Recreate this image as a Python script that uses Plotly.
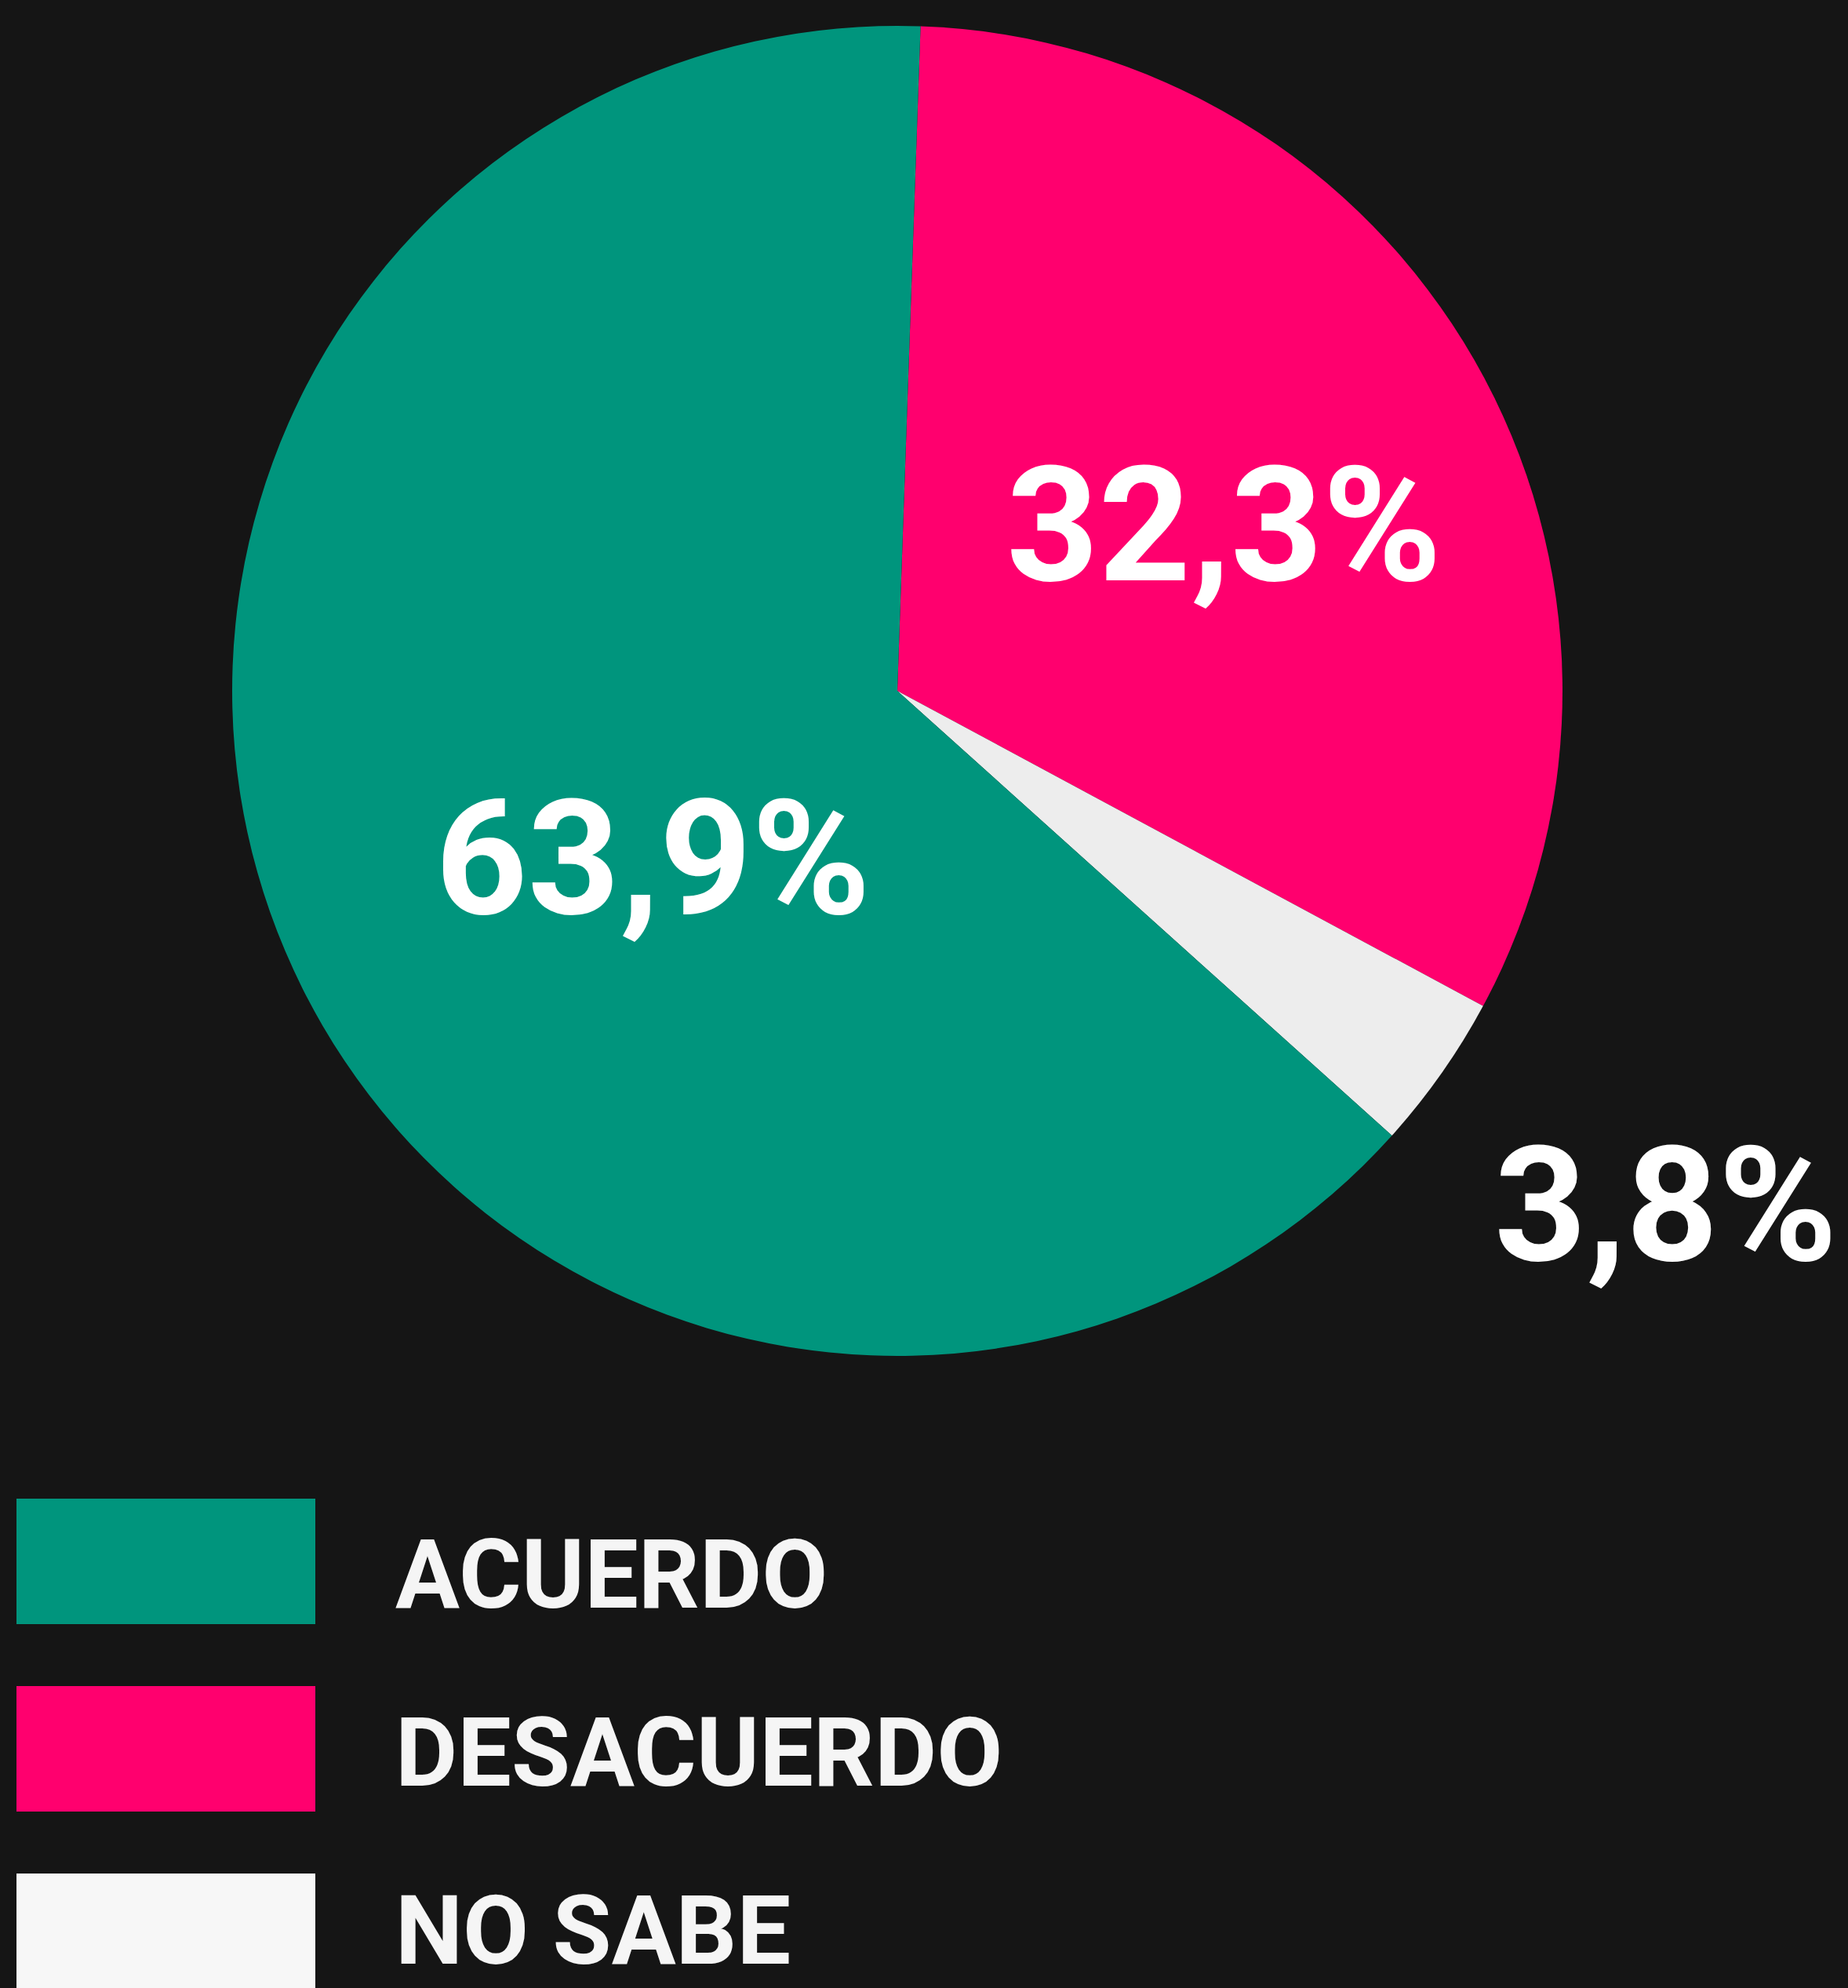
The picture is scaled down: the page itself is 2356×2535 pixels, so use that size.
import math
import plotly.graph_objects as go

# survey answers, clockwise from the top
labels = ["DESACUERDO", "NO SABE", "ACUERDO"]
values = [32.3, 3.8, 63.9]
colors = ["#FF006E", "#EDEDED", "#00957D"]

# legend order as shown under the pie
legend_labels = ["ACUERDO", "DESACUERDO", "NO SABE"]
legend_colors = ["#00957D", "#FF006E", "#F7F7F7"]

# where each percentage sits: share of the radius, and a nudge off the slice's middle angle
label_radius = [0.55, 1.39, 0.446]
label_shift = [3, -1.3, -11.4]

W, H = 2356, 2535
font = "Roboto, Arial, sans-serif"
rotation = 2

# pie box in pixels: left, right, top, bottom
px_l, px_r, px_t, px_b = 296, 1992, 33, 1729
cx, cy = (px_l + px_r) / 2, (px_t + px_b) / 2
R = min(px_r - px_l, px_b - px_t) / 2

fig = go.Figure(go.Pie(
    labels=labels,
    values=values,
    textinfo="none",
    marker=dict(colors=colors, line=dict(width=0)),
    sort=False,
    direction="clockwise",
    rotation=rotation,
    showlegend=False,
    hoverinfo="label+percent",
    domain=dict(x=[px_l / W, px_r / W], y=[1 - px_b / H, 1 - px_t / H]),
))

shapes = []
annotations = []

# percentage labels, placed around the middle angle of each slice
total = sum(values)
start = rotation
for v, rf, shift in zip(values, label_radius, label_shift):
    sweep = 360 * v / total
    mid = math.radians(start + sweep / 2 + shift)
    start += sweep
    x = cx + rf * R * math.sin(mid)
    y = cy - rf * R * math.cos(mid)
    annotations.append(dict(text=f"{v:.1f}%".replace(".", ","),
                            xref="paper", yref="paper", x=x / W, y=1 - y / H,
                            xanchor="center", yanchor="middle", showarrow=False,
                            font=dict(family=font, size=205, color="white", weight="bold")))

# hand-made legend with big swatches
for i, (lab, col) in enumerate(zip(legend_labels, legend_colors)):
    top = 1911 + i * 239
    shapes.append(dict(type="rect", xref="paper", yref="paper",
                       x0=21 / W, x1=402 / W,
                       y0=1 - (top + 160) / H, y1=1 - top / H,
                       fillcolor=col, line=dict(width=0)))
    annotations.append(dict(text=lab, xref="paper", yref="paper",
                            x=502 / W, y=1 - (2008 + i * 227) / H,
                            xanchor="left", yanchor="middle", showarrow=False,
                            font=dict(family=font, size=122, color="#F5F5F5", weight="bold")))

fig.update_layout(
    width=W, height=H,
    margin=dict(l=0, r=0, t=0, b=0),
    paper_bgcolor="#151515",
    plot_bgcolor="#151515",
    shapes=shapes,
    annotations=annotations,
)

fig.write_html("out.html", config={"displayModeBar": False},
               post_script="document.body.style.margin='0';document.body.style.background='#151515';")
